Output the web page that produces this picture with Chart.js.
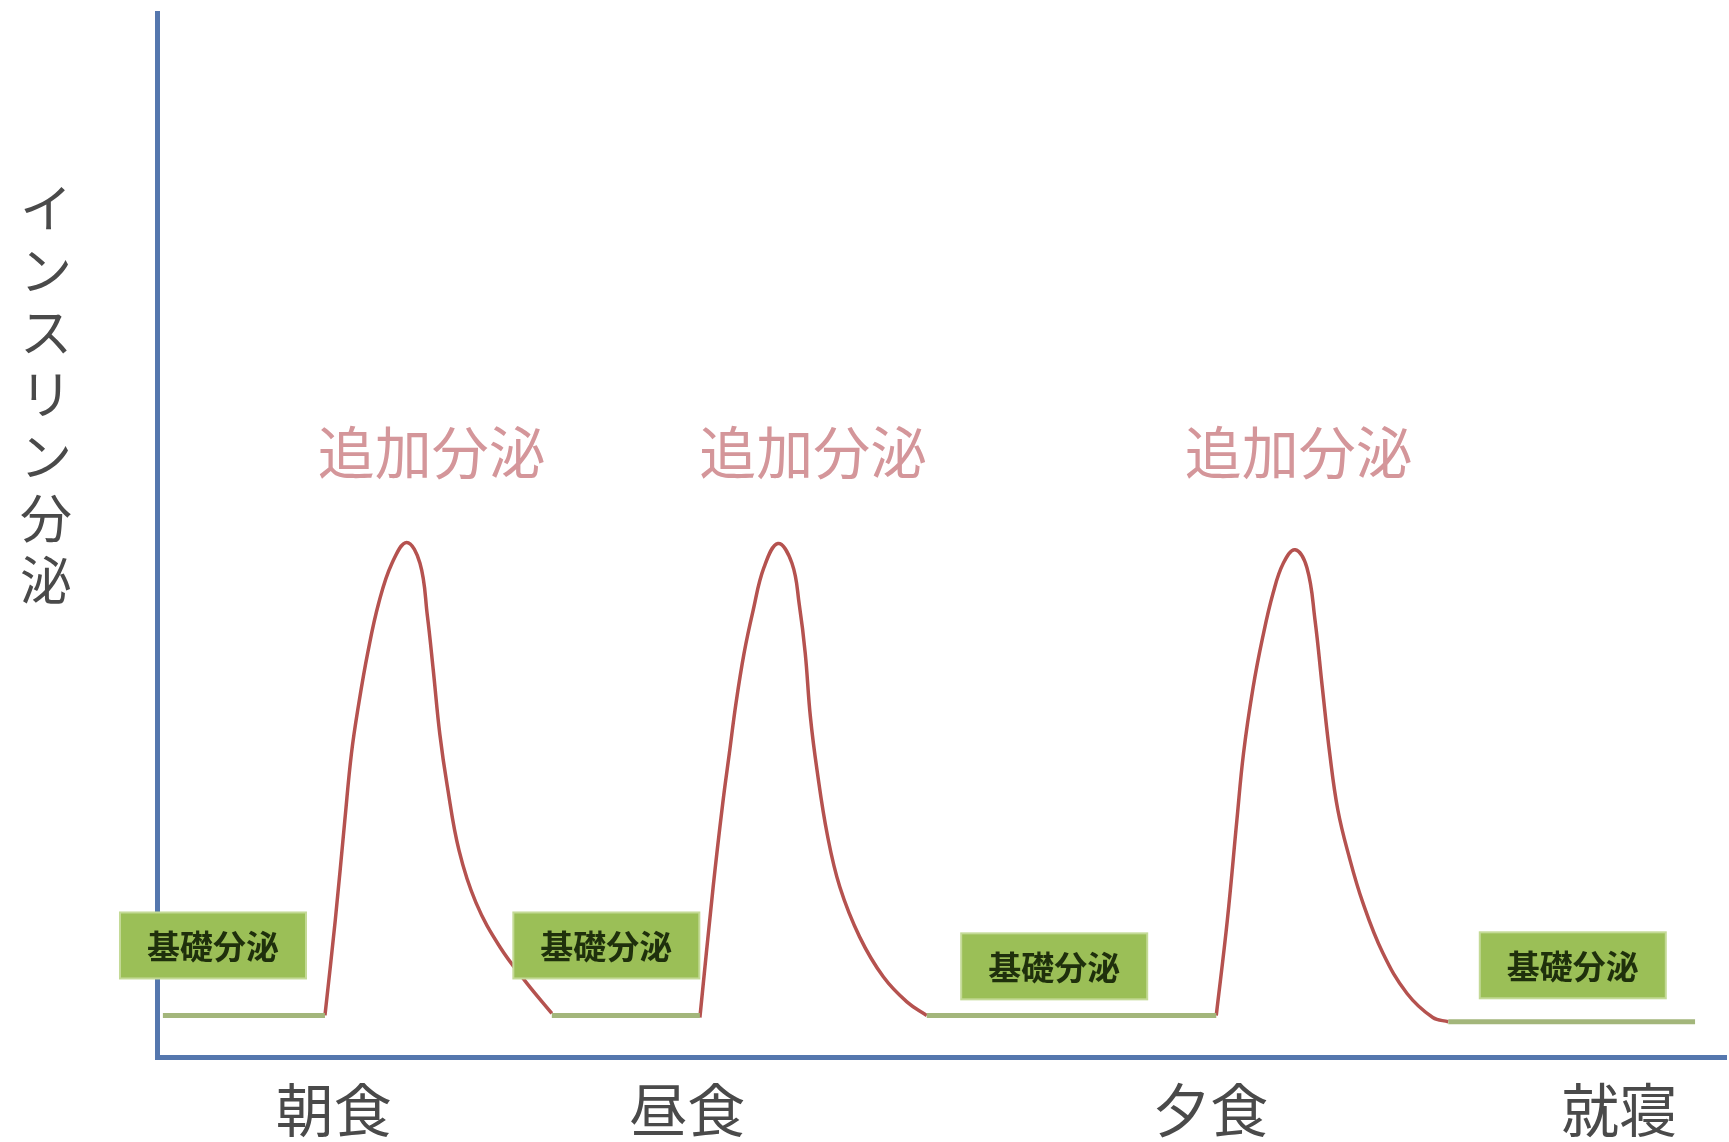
<!DOCTYPE html>
<html lang="ja">
<head>
<meta charset="utf-8">
<title>インスリン分泌</title>
<script src="https://cdn.jsdelivr.net/npm/chart.js@4.4.1/dist/chart.umd.min.js"></script>
<style>
  html, body { margin: 0; padding: 0; background: #fff; }
  canvas { display: block; }
</style>
</head>
<body>
<canvas id="chart" width="1729" height="1142"></canvas>
<script>
// x は時刻（時）、y は分泌量（相対値 0〜100）
const mealTimes = [7.1, 11.9, 19.0, 24.55];
const mealLabels = ['朝食', '昼食', '夕食', '就寝'];

// 追加分泌（食後のピーク） [時刻, 分泌量]
const bolusBreakfast = [
  [6.98, 4.0], [7.12, 13.1], [7.25, 22.7], [7.34, 29.1], [7.44, 33.9], [7.56, 38.7],
  [7.71, 43.5], [7.89, 47.3], [8.09, 49.3], [8.27, 47.3], [8.37, 42.3], [8.45, 37.1],
  [8.54, 30.9], [8.64, 26.0], [8.80, 19.8], [9.03, 14.8], [9.36, 10.5], [9.72, 7.1],
  [10.06, 4.2]
];
const bolusLunch = [
  [12.07, 3.8], [12.25, 16.3], [12.38, 24.3], [12.47, 29.1], [12.56, 33.9], [12.67, 38.7],
  [12.79, 42.7], [12.94, 46.9], [13.13, 49.2], [13.32, 47.3], [13.42, 43.3], [13.50, 38.7],
  [13.57, 32.6], [13.66, 27.5], [13.80, 21.3], [13.97, 16.3], [14.24, 11.5], [14.56, 7.7],
  [14.88, 5.3], [15.15, 4.0]
];
const bolusDinner = [
  [19.08, 4.0], [19.23, 13.1], [19.36, 22.7], [19.45, 29.1], [19.58, 35.4], [19.71, 40.2],
  [19.85, 44.4], [19.99, 47.3], [20.15, 48.6], [20.31, 46.9], [20.42, 41.9], [20.52, 35.4],
  [20.62, 29.1], [20.73, 23.7], [20.88, 19.3], [21.07, 14.8], [21.34, 10.0], [21.67, 6.1],
  [22.02, 3.8], [22.23, 3.4]
];

// 基礎分泌（一定量）
const basalStart = [4.78, 10.06, 15.15, 22.23];
const basalEnd = [6.98, 12.07, 19.08, 25.58];
const basalLevel = [4.0, 4.0, 4.0, 3.4];

// 注釈の置き場所（データ座標）
const basalBoxX = [5.46, 10.80, 16.88, 23.92];
const basalBoxY = [10.7, 10.7, 8.7, 8.8];
const bolusLabelX = [8.43, 13.61, 20.20];
const bolusLabelY = 57.9;

const yTitle = 'インスリン分泌';
const cjk = "'Noto Sans CJK JP', 'Noto Sans', sans-serif";
const axisColor = '#5577ae';
const bolusColor = '#b5524f';
const basalColor = '#a3b67b';

const toPoints = arr => arr.map(p => ({ x: p[0], y: p[1] }));

const bolusSets = [bolusBreakfast, bolusLunch, bolusDinner].map(arr => ({
  data: toPoints(arr),
  borderColor: bolusColor,
  borderWidth: 3.5,
  tension: 0.4,
  pointRadius: 0
}));

const basalSets = basalStart.map((s, i) => ({
  data: [{ x: s, y: basalLevel[i] }, { x: basalEnd[i], y: basalLevel[i] }],
  borderColor: basalColor,
  borderWidth: 5,
  pointRadius: 0
}));

// 基礎分泌・追加分泌のラベルと縦書きの軸タイトル
const labelPlugin = {
  id: 'secretionLabels',
  afterDraw(chart) {
    const { ctx, scales: { x, y } } = chart;
    ctx.save();
    ctx.textAlign = 'center';
    ctx.textBaseline = 'middle';

    basalBoxX.forEach((v, i) => {
      const cx = x.getPixelForValue(v);
      const cy = y.getPixelForValue(basalBoxY[i]);
      ctx.fillStyle = '#9bbf57';
      ctx.fillRect(cx - 93, cy - 33, 186, 66);
      ctx.strokeStyle = '#c4da97';
      ctx.lineWidth = 2;
      ctx.strokeRect(cx - 93, cy - 33, 186, 66);
      ctx.fillStyle = '#1f300c';
      ctx.font = 'bold 33px ' + cjk;
      ctx.fillText('基礎分泌', cx, cy + 1);
    });

    ctx.fillStyle = '#d4969a';
    ctx.font = '57px ' + cjk;
    bolusLabelX.forEach(v => {
      ctx.fillText('追加分泌', x.getPixelForValue(v), y.getPixelForValue(bolusLabelY));
    });

    ctx.fillStyle = '#4a4a4a';
    ctx.font = '52px ' + cjk;
    [...yTitle].forEach((ch, i) => {
      ctx.fillText(ch, 46, 208 + i * 62);
    });
    ctx.restore();
  }
};

new Chart(document.getElementById('chart'), {
  type: 'line',
  data: { datasets: [...basalSets, ...bolusSets] },
  options: {
    responsive: false,
    animation: false,
    layout: { padding: { left: 157, right: 3, top: 13, bottom: -21 } },
    plugins: { legend: { display: false }, tooltip: { enabled: false } },
    scales: {
      x: {
        type: 'linear',
        min: 4.7,
        max: 26.0,
        grid: { display: false, drawTicks: false },
        border: { color: axisColor, width: 5 },
        afterBuildTicks: scale => { scale.ticks = mealTimes.map(v => ({ value: v })); },
        ticks: {
          autoSkip: false,
          maxRotation: 0,
          padding: 21,
          color: '#4a4a4a',
          font: { family: cjk, size: 58, lineHeight: 1.1 },
          callback: (v, i) => mealLabels[i]
        }
      },
      y: {
        min: 0,
        max: 100,
        grid: { display: false, drawTicks: false },
        border: { color: axisColor, width: 5 },
        ticks: { display: false }
      }
    }
  },
  plugins: [labelPlugin]
});
</script>
</body>
</html>
